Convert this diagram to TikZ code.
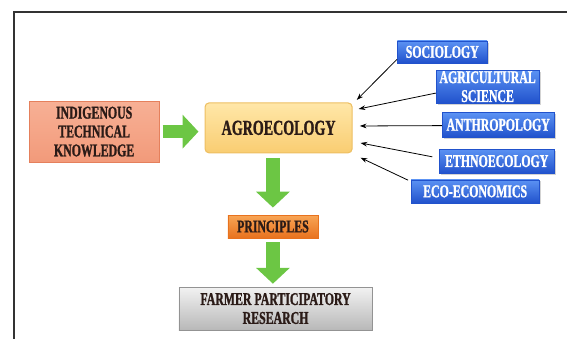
\documentclass[tikz,border=0pt]{standalone}
\usepackage{fontspec}
\setmainfont{Liberation Serif}[FakeStretch=0.66, FakeBold=1.2]
\usetikzlibrary{arrows.meta,shadows}
\definecolor{inkdark}{HTML}{2B1B17}
\definecolor{salmontop}{HTML}{F7B095}
\definecolor{salmonbot}{HTML}{F29A7A}
\definecolor{salmonline}{HTML}{E5805C}
\definecolor{sandtop}{HTML}{FFE7A8}
\definecolor{sandbot}{HTML}{F9CD72}
\definecolor{sandline}{HTML}{EDBF62}
\definecolor{orangetop}{HTML}{F8A555}
\definecolor{orangebot}{HTML}{E8721E}
\definecolor{greytop}{HTML}{F2F2F2}
\definecolor{greybot}{HTML}{B8B8B8}
\definecolor{bluetop}{HTML}{5B92F3}
\definecolor{bluebot}{HTML}{2152CC}
\definecolor{leafgreen}{HTML}{6CC644}
\tikzset{every node/.style={font=\bfseries\fontsize{13.5}{14.2}\selectfont, align=center, inner sep=0pt, text=inkdark},
  itkbox/.style={draw=salmonline, line width=0.8pt, top color=salmontop, bottom color=salmonbot},
  agrobox/.style={draw=sandline, line width=0.8pt, rounded corners=3pt, top color=sandtop, bottom color=sandbot, font=\bfseries\fontsize{16}{17}\selectfont},
  prinbox/.style={draw=orangebot, line width=0.4pt, top color=orangetop, bottom color=orangebot},
  farmbox/.style={draw=greybot!80!black, line width=0.4pt, top color=greytop, bottom color=greybot},
  subjbox/.style={draw=bluebot, line width=0.4pt, top color=bluetop, bottom color=bluebot, text=white, drop shadow={shadow xshift=1.2pt, shadow yshift=-1.2pt, opacity=0.35}},
  fatarrow/.style={draw=leafgreen, line width=0.36cm, -{Triangle[length=0.42cm, width=0.87cm]}},
  thinarrow/.style={draw=black, line width=0.6pt, -{Stealth[length=5pt, width=3.5pt]}}}
\begin{document}
\begin{tikzpicture}
  \useasboundingbox (0,0) rectangle (15,8.943);
  \draw[line width=1.1pt, black!80] (0.37,-0.3) -- (0.37,8.63) -- (15.3,8.63);
  \node[itkbox, minimum width=3.44cm, minimum height=1.61cm] (itk) at (2.49,5.46) {INDIGENOUS\\TECHNICAL\\KNOWLEDGE};
  \node[agrobox, minimum width=3.89cm, minimum height=1.32cm] (agro) at (7.37,5.56) {AGROECOLOGY};
  \node[prinbox, minimum width=2.38cm, minimum height=0.61cm] (princ) at (7.22,2.95) {PRINCIPLES};
  \node[farmbox, minimum width=5.11cm, minimum height=1.14cm] (farm) at (7.29,0.78) {FARMER PARTICIPATORY\\RESEARCH};
  \node[subjbox, minimum width=2.38cm, minimum height=0.58cm] (soc) at (11.70,7.57) {SOCIOLOGY};
  \node[subjbox, minimum width=2.73cm, minimum height=0.87cm] (agsci) at (12.90,6.65) {AGRICULTURAL\\SCIENCE};
  \node[subjbox, minimum width=2.96cm, minimum height=0.64cm] (anthro) at (13.18,5.64) {ANTHROPOLOGY};
  \node[subjbox, minimum width=3.04cm, minimum height=0.64cm] (ethno) at (13.14,4.68) {ETHNOECOLOGY};
  \node[subjbox, minimum width=3.39cm, minimum height=0.61cm] (ecoec) at (12.57,3.88) {ECO-ECONOMICS};
  \coordinate (t1) at ([shift={(0.11,0.74)}]agro.east);
  \coordinate (t2) at ([shift={(0.16,0.50)}]agro.east);
  \coordinate (t3) at ([shift={(0.19,0.05)}]agro.east);
  \coordinate (t4) at ([shift={(0.21,-0.40)}]agro.east);
  \coordinate (t5) at ([shift={(0.21,-0.79)}]agro.east);
  \draw[fatarrow, shorten <=0.08cm, shorten >=0.16cm] (itk.east |- 0,5.46) -- (agro.west |- 0,5.46);
  \draw[fatarrow, shorten <=0.13cm, shorten >=0.19cm] (princ.north |- agro.south) -- (princ.north);
  \draw[fatarrow, shorten <=0.10cm, shorten >=0.08cm] (princ.south) -- (princ.south |- farm.north);
  \draw[thinarrow] ([yshift=0.1cm]soc.south west) -- (t1);
  \draw[thinarrow] ([yshift=-0.17cm]agsci.west) -- (t2);
  \draw[thinarrow] ([yshift=-0.02cm]anthro.west) -- (t3);
  \draw[thinarrow, shorten <=0.18cm] ([yshift=0.08cm]ethno.west) -- (t4);
  \draw[thinarrow, shorten <=0.08cm] ([yshift=-0.05cm]ecoec.north west) -- (t5);
\end{tikzpicture}
\end{document}
